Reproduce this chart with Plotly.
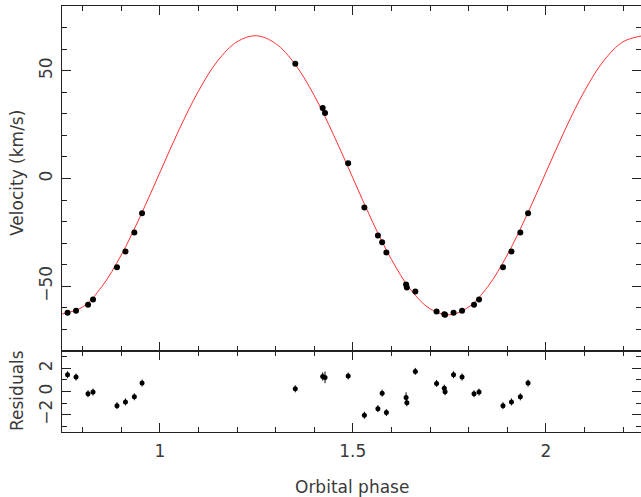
import plotly.graph_objects as go

# Observed data (orbital phase fraction, velocity km/s, residual km/s, residual error)
phase = [0.351, 0.422, 0.428, 0.488, 0.530, 0.565, 0.576, 0.587, 0.638, 0.640, 0.662,
         0.717, 0.737, 0.739, 0.761, 0.783, 0.814, 0.827, 0.889, 0.911, 0.934, 0.954]
velocity = [53.2, 32.7, 30.4, 7.1, -13.4, -26.4, -29.6, -34.3, -49.2, -50.6, -52.4,
            -61.7, -63.0, -63.2, -62.2, -61.3, -58.5, -56.1, -41.2, -33.8, -25.0, -16.1]
residual = [0.23, 1.30, 1.22, 1.34, -2.05, -1.48, -0.14, -1.82, -0.52, -0.98, 1.74,
            0.70, 0.29, -0.03, 1.45, 1.25, -0.20, -0.05, -1.22, -0.90, -0.46, 0.73]
res_err = [0.3, 0.35, 0.5, 0.3, 0.3, 0.3, 0.3, 0.3, 0.45, 0.3, 0.3,
           0.3, 0.3, 0.3, 0.3, 0.3, 0.3, 0.3, 0.3, 0.3, 0.3, 0.3]

# Model curve (phase, velocity)
curve_phase = [0.74, 0.80, 0.85, 0.90, 0.95, 1.00, 1.05, 1.10, 1.15, 1.20, 1.25, 1.30,
               1.35, 1.40, 1.45, 1.50, 1.55, 1.60, 1.65, 1.70, 1.75, 1.80, 1.85, 1.90,
               1.95, 2.00, 2.05, 2.10, 2.15, 2.20, 2.25]
curve_vel = [-63.1, -59.6, -50.1, -35.5, -17.3, 2.7, 22.7, 40.5, 54.6, 63.4, 66.2, 62.6,
             53.1, 38.5, 20.3, 0.3, -19.7, -37.5, -51.6, -60.4, -63.2, -59.6, -50.1, -35.5,
             -17.3, 2.7, 22.7, 40.5, 54.6, 63.4, 66.2]

x_range = [0.7466, 2.2466]
x_tickvals = [1, 1.5, 2]
x_ticktext = ["1", "1.5", "2"]
vel_tickvals = [-50, 0, 50]
vel_ticktext = ["\u221250", "0", "50"]
res_tickvals = [-2, 0, 2]
res_ticktext = ["\u22122", "0", "2"]

# Phase-fold: show each point at phase and phase+1 when within the range
px, pv, pr, pe = [], [], [], []
for shift in (0, 1):
    for p, v, r, e in zip(phase, velocity, residual, res_err):
        x = p + shift
        if x_range[0] <= x <= x_range[1]:
            px.append(x); pv.append(v); pr.append(r); pe.append(e)

FONT = "DejaVu Sans"
TXT = "#3a3a3a"
AX = "#222222"
FS = 17

fig = go.Figure()
fig.add_trace(go.Scatter(x=curve_phase, y=curve_vel, mode="lines", line_shape="spline",
                         line=dict(color="#ff3030", width=1), xaxis="x", yaxis="y",
                         showlegend=False, hoverinfo="skip"))
fig.add_trace(go.Scatter(x=px, y=pv, mode="markers", marker=dict(color="black", size=6),
                         xaxis="x", yaxis="y", showlegend=False))
fig.add_trace(go.Scatter(x=px, y=pr, mode="markers", marker=dict(color="black", size=5),
                         error_y=dict(type="data", array=pe, color="black", thickness=1, width=0),
                         xaxis="x2", yaxis="y2", showlegend=False))

common_x = dict(range=x_range, showgrid=False, zeroline=False, ticks="inside", ticklen=9,
                tickwidth=1, tickcolor=AX, showline=True, linecolor=AX, linewidth=1,
                mirror="allticks", tickvals=x_tickvals, ticktext=x_ticktext,
                minor=dict(dtick=0.1, tick0=0, ticks="inside", ticklen=5, tickcolor=AX, showgrid=False),
                tickfont=dict(family=FONT, size=FS, color=TXT))

fig.update_layout(
    width=641, height=497,
    margin=dict(l=62, r=0, t=6, b=65),
    plot_bgcolor="white", paper_bgcolor="white",
    xaxis=dict(**common_x, anchor="y", showticklabels=False, matches="x2"),
    xaxis2=dict(**common_x, anchor="y2", showticklabels=True, ticklabelstandoff=4),
    yaxis=dict(domain=[0.1901, 1], range=[-80, 80], showgrid=False, zeroline=False,
               ticks="inside", ticklen=9, tickcolor=AX, showline=True, linecolor=AX,
               linewidth=1, mirror="allticks", tickvals=vel_tickvals, ticktext=vel_ticktext,
               tickangle=-90, ticklabelstandoff=2,
               minor=dict(dtick=10, tick0=0, ticks="inside", ticklen=5,
                          tickcolor=AX, showgrid=False),
               tickfont=dict(family=FONT, size=FS, color=TXT), anchor="x"),
    yaxis2=dict(domain=[0, 0.1901], range=[-3.5, 3.5], showgrid=False, zeroline=False,
                ticks="inside", ticklen=9, tickcolor=AX, showline=True, linecolor=AX,
                linewidth=1, mirror="allticks", tickvals=res_tickvals, ticktext=res_ticktext,
                tickangle=-90, ticklabelstandoff=2,
                minor=dict(dtick=1, tick0=0, ticks="inside", ticklen=5,
                           tickcolor=AX, showgrid=False),
                tickfont=dict(family=FONT, size=FS, color=TXT), anchor="x2"),
)

# Axis titles placed at pixel positions, converted to paper coordinates
plot_w = 641 - 62
plot_h = 497 - 6 - 65
def px_to_paper(xp, yp):
    return (xp - 62) / plot_w, (432 - yp) / plot_h

titles = [("Velocity (km/s)", 17, 173, -90),
          ("Residuals", 17, 391, -90),
          ("Orbital phase", 352, 487, 0)]
for text, xp, yp, ang in titles:
    ax_, ay_ = px_to_paper(xp, yp)
    fig.add_annotation(text=text, x=ax_, y=ay_, xref="paper", yref="paper",
                       xanchor="center", yanchor="middle", showarrow=False,
                       textangle=ang, font=dict(family=FONT, size=FS, color=TXT))

fig.write_html("out.html")
